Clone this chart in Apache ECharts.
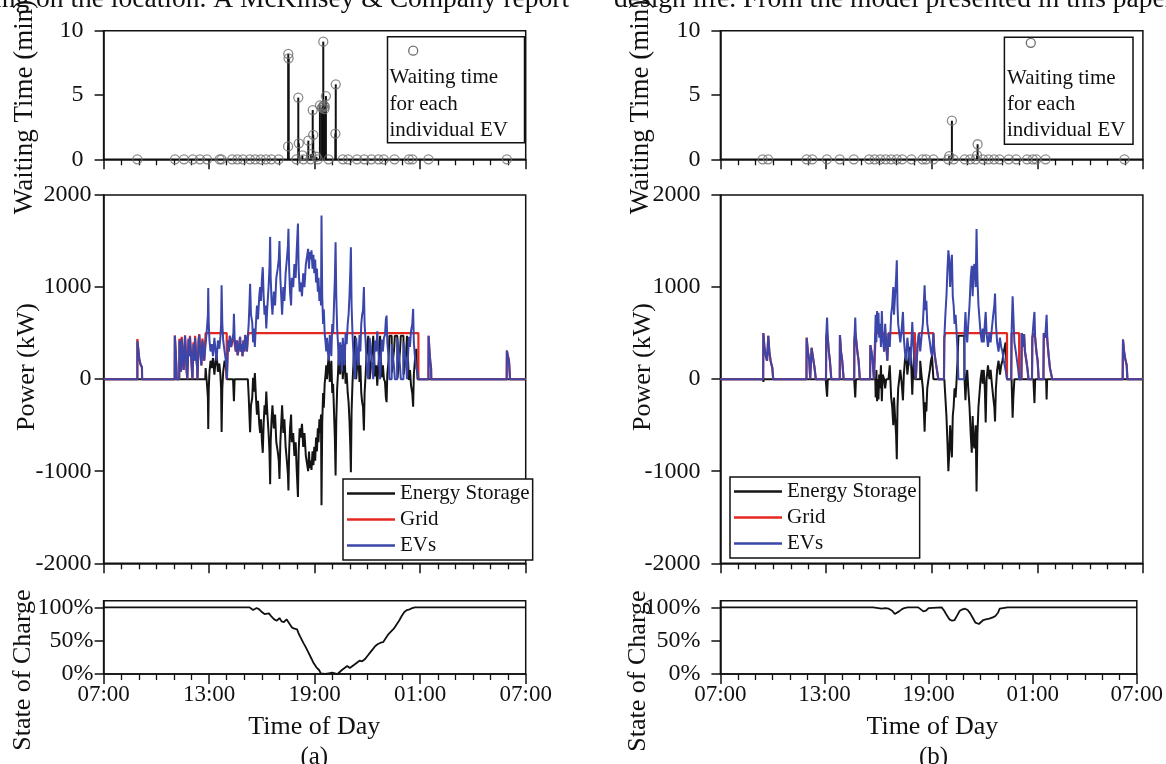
<!DOCTYPE html>
<html>
<head>
<meta charset="utf-8">
<script src="https://cdn.jsdelivr.net/npm/echarts@6/dist/echarts.min.js"></script>
<style>
html,body{margin:0;padding:0;background:#fff;}
#chart{width:1166px;height:764px;}
</style>
</head>
<body>
<div id="chart"></div>
<script>
// ---------- tick labels ----------
const timeTicks = [7, 13, 19, 25, 31];
const timeTickLabels = ['07:00', '13:00', '19:00', '01:00', '07:00'];
const socTicks = [0, 50, 100];
const socTickLabels = ['0%', '50%', '100%'];
const seriesNames = ['Energy Storage', 'Grid', 'EVs'];

// ---------- panel (a) ----------
const waitA = [
  [8.92,0],[11.06,0],[11.57,0],[12.07,0],[12.48,0],[12.88,0],[13.6,0],[13.7,0],[14.31,0],[14.61,0],
  [14.92,0],[15.32,0],[15.62,0],[15.93,0],[16.23,0],[16.54,0],[16.95,0],[17.96,0],[18.36,0],[18.77,0],
  [19.18,0],[19.79,0],[20.6,0],[20.9,0],[21.41,0],[21.82,0],[22.23,0],[22.63,0],[22.93,0],[23.54,0],
  [24.36,0],[24.56,0],[25.47,0],[29.93,0],
  [17.5,8.2],[17.52,7.85],[17.49,1.0],[18.07,4.8],[18.1,1.24],[18.3,0.3],[18.64,1.45],[18.8,0.4],
  [18.89,3.83],[18.92,1.9],[19.1,0.2],[19.3,4.2],[19.42,4.0],[19.45,4.1],[19.49,9.15],[19.52,4.2],
  [19.55,3.9],[19.58,4.1],[19.64,4.92],[20.2,5.83],[20.18,2.0]
];
const evA = [
  [7,0],[8.92,0],[8.92,415],[8.97,330],[9.03,220],[9.1,160],[9.18,130],[9.19,0],
  [11.04,0],[11.05,470],[11.1,300],[11.14,120],[11.16,0],
  [11.3,0],[11.31,420],[11.36,250],[11.4,80],[11.44,440],[11.5,260],[11.55,100],[11.63,470],[11.68,280],[11.72,90],[11.76,0],
  [11.82,0],[11.83,430],[11.88,250],[11.91,460],[11.97,270],[12.02,100],[12.05,0],
  [12.1,0],[12.11,380],[12.16,200],[12.2,450],[12.26,260],[12.32,120],[12.34,0],
  [12.38,0],[12.4,410],[12.44,480],[12.5,300],[12.56,150],[12.62,420],[12.67,300],[12.72,200],
  [12.8,380],[12.88,560],[12.93,700],[12.95,990],[12.98,600],[13.02,420],[13.08,300],[13.15,380],[13.22,250],
  [13.3,450],[13.36,320],[13.42,200],[13.5,420],[13.58,330],[13.64,450],[13.68,600],[13.71,1020],[13.75,600],
  [13.8,420],[13.88,300],[13.95,200],[14.0,120],[14.02,0],
  [14.05,0],[14.07,420],[14.12,300],[14.18,470],[14.25,350],[14.3,400],[14.38,500],[14.41,710],[14.45,450],
  [14.52,300],[14.58,420],[14.62,260],[14.7,350],[14.76,460],[14.8,300],[14.85,380],[14.9,250],[14.95,420],
  [15.0,300],[15.05,480],[15.1,420],[15.15,300],[15.2,460],[15.25,600],[15.3,850],[15.33,1035],[15.38,700],
  [15.45,620],[15.5,400],[15.55,550],[15.6,350],[15.66,600],[15.72,800],[15.78,650],[15.85,900],[15.9,1000],
  [15.95,850],[16.0,1080],[16.05,1216],[16.1,900],[16.15,700],[16.2,800],[16.25,550],[16.3,750],[16.38,1000],
  [16.43,1200],[16.47,1545],[16.5,1100],[16.55,850],[16.6,700],[16.68,950],[16.75,800],[16.82,1100],[16.9,1200],
  [16.96,1300],[17.0,1500],[17.05,1100],[17.1,900],[17.15,700],[17.22,1000],[17.28,850],[17.35,1150],[17.42,1300],
  [17.48,1450],[17.51,1632],[17.55,1200],[17.6,950],[17.66,800],[17.7,1100],[17.78,1000],[17.85,1250],[17.92,1100],
  [17.98,1400],[18.05,1690],[18.09,1200],[18.15,950],[18.2,1050],[18.28,900],[18.35,1150],[18.42,1000],[18.5,1250],
  [18.58,1350],[18.63,1415],[18.68,1200],[18.72,1380],[18.78,1300],[18.82,1400],[18.88,1200],[18.93,1350],
  [18.98,1150],[19.03,1300],[19.08,1050],[19.13,1200],[19.18,950],[19.22,1100],[19.27,850],[19.32,1000],
  [19.36,800],[19.39,1776],[19.43,900],[19.48,600],[19.52,760],[19.57,500],[19.62,400],[19.66,300],[19.7,450],
  [19.75,300],[19.8,200],[19.86,480],[19.9,350],[19.95,250],[20.0,600],[20.05,500],[20.1,800],[20.15,1100],
  [20.19,1487],[20.23,900],[20.28,550],[20.33,380],[20.38,150],[20.45,400],[20.5,250],[20.55,80],[20.6,450],
  [20.65,300],[20.7,150],[20.76,500],[20.82,380],[20.88,600],[20.93,700],[20.98,900],[21.03,1200],[21.06,1433],
  [21.1,800],[21.15,500],[21.2,300],[21.25,100],[21.3,0],[21.35,0],[21.36,450],[21.42,300],[21.48,150],
  [21.55,480],[21.6,300],[21.65,600],[21.7,700],[21.75,750],[21.8,1000],[21.84,600],[21.9,400],[21.95,200],
  [22.0,60],[22.05,0],[22.12,0],[22.13,450],[22.2,300],[22.27,150],[22.33,0],[22.42,0],[22.43,420],[22.5,300],
  [22.56,520],[22.62,320],[22.68,140],[22.72,0],[22.8,0],[22.81,430],[22.88,300],[22.94,450],[23.0,480],
  [23.05,650],[23.09,690],[23.13,400],[23.2,250],[23.25,0],[23.38,0],[23.39,380],[23.45,250],[23.52,120],
  [23.56,0],[23.7,0],[23.71,440],[23.78,300],[23.85,150],[23.9,0],[24.05,0],[24.06,400],[24.12,300],[24.2,180],
  [24.25,0],[24.35,0],[24.36,460],[24.42,350],[24.48,520],[24.55,600],[24.6,763],[24.64,400],[24.7,250],
  [24.78,120],[24.85,80],[24.9,0],
  [25.47,0],[25.48,470],[25.53,300],[25.58,180],[25.62,120],[25.63,0],
  [29.92,0],[29.93,310],[29.98,260],[30.05,200],[30.1,180],[30.11,0],[31,0]
];
const gridA = [
  [7,0],[8.92,0],[8.92,435],[8.97,330],[9.03,220],[9.1,160],[9.18,130],[9.19,0],
  [11.04,0],[11.05,475],[11.1,300],[11.14,120],[11.16,0],[11.3,0],[11.31,440],[11.36,250],[11.4,80],
  [11.44,460],[11.5,260],[11.55,100],[11.63,475],[11.68,280],[11.72,90],[11.76,0],[11.82,0],[11.83,440],
  [11.88,250],[11.91,470],[11.97,270],[12.02,100],[12.05,0],[12.1,0],[12.11,400],[12.16,200],[12.2,470],
  [12.26,260],[12.32,120],[12.34,0],[12.38,0],[12.4,430],[12.44,490],[12.5,300],[12.56,150],[12.62,440],
  [12.67,300],[12.72,200],[12.8,500],[14.0,500],[14.0,0],
  [14.05,0],[14.07,420],[14.12,300],[14.18,470],[14.25,350],[14.3,400],[14.38,470],[14.45,450],[14.52,300],
  [14.58,420],[14.62,260],[14.7,350],[14.76,460],[14.8,300],[14.85,380],[14.9,250],[14.95,420],[15.0,300],
  [15.05,480],[15.1,420],[15.15,300],[15.2,460],[15.25,500],[24.9,500],[24.9,0],
  [25.47,0],[25.48,470],[25.53,300],[25.58,180],[25.62,120],[25.63,0],
  [29.92,0],[29.93,310],[29.98,260],[30.05,200],[30.1,180],[30.11,0],[31,0]
];
const storageA = [
  [7,0],[12.78,0],[12.8,120],[12.88,-60],[12.93,-200],[12.95,-540],[12.98,-100],[13.02,80],[13.08,200],
  [13.15,120],[13.22,230],[13.3,50],[13.36,180],[13.42,280],[13.5,80],[13.58,170],[13.64,50],[13.68,-100],
  [13.71,-575],[13.75,-100],[13.8,80],[13.88,200],[13.95,150],[14.0,0],
  [14.36,0],[14.41,-240],[14.45,0],[15.2,0],
  [15.25,-185],[15.3,-435],[15.33,-575],[15.38,-285],[15.45,-205],[15.5,15],[15.55,-135],[15.6,65],
  [15.66,-185],[15.72,-385],[15.78,-235],[15.85,-485],[15.9,-585],[15.95,-435],[16.0,-665],[16.05,-800],
  [16.1,-485],[16.15,-285],[16.2,-385],[16.25,-135],[16.3,-335],[16.38,-585],[16.43,-785],[16.47,-1140],
  [16.5,-685],[16.55,-435],[16.6,-285],[16.68,-535],[16.75,-385],[16.82,-685],[16.9,-785],[16.96,-885],
  [17.0,-1085],[17.05,-685],[17.1,-485],[17.15,-285],[17.22,-585],[17.28,-435],[17.35,-735],[17.42,-885],
  [17.48,-1035],[17.51,-1210],[17.55,-785],[17.6,-535],[17.66,-385],[17.7,-685],[17.78,-585],[17.85,-835],
  [17.92,-685],[17.98,-985],[18.05,-1280],[18.09,-785],[18.15,-535],[18.2,-635],[18.28,-485],[18.35,-735],
  [18.42,-585],[18.5,-835],[18.58,-935],[18.63,-1000],[18.68,-785],[18.72,-965],[18.78,-885],[18.82,-985],
  [18.88,-785],[18.93,-935],[18.98,-735],[19.03,-885],[19.08,-635],[19.13,-785],[19.18,-535],[19.22,-685],
  [19.27,-435],[19.32,-585],[19.36,-385],[19.39,-1370],[19.43,-485],
  [19.48,-150],[19.52,-310],[19.57,-50],[19.62,50],[19.66,150],[19.7,0],[19.75,150],[19.8,250],[19.86,-30],
  [19.9,100],[19.95,200],[20.0,-150],[20.05,-50],[20.1,-350],[20.15,-650],[20.19,-1046],[20.23,-450],
  [20.28,-100],[20.33,70],[20.38,300],[20.45,50],[20.5,200],[20.55,370],[20.6,0],[20.65,150],[20.7,300],
  [20.76,-50],[20.82,70],[20.88,-150],[20.93,-250],[20.98,-450],[21.03,-750],[21.06,-1010],[21.1,-350],
  [21.15,-50],[21.2,150],[21.25,350],[21.3,470],[21.35,470],[21.36,0],[21.42,150],[21.48,300],[21.55,-30],
  [21.6,150],[21.65,-150],[21.7,-250],[21.75,-300],[21.8,-558],[21.84,-150],[21.9,50],[21.95,250],[22.0,390],
  [22.05,470],[22.12,470],[22.13,0],[22.2,150],[22.27,300],[22.33,470],[22.42,470],[22.43,30],[22.5,150],
  [22.56,-70],[22.62,130],[22.68,310],[22.72,470],[22.8,470],[22.81,20],[22.88,150],[22.94,0],[23.0,-30],
  [23.05,-200],[23.09,-250],[23.13,50],[23.2,200],[23.25,470],[23.38,470],[23.39,70],[23.45,200],[23.52,330],
  [23.56,470],[23.7,470],[23.71,10],[23.78,150],[23.85,300],[23.9,470],[24.05,470],[24.06,50],[24.12,150],
  [24.2,270],[24.25,470],[24.35,470],[24.36,-10],[24.42,100],[24.48,-70],[24.55,-150],[24.6,-300],[24.64,50],
  [24.7,200],[24.78,330],[24.85,0],[24.9,0],[31,0]
];
const socA = [
  [7,100],[12.9,100],[13.0,98],[13.1,100],[13.7,100],[13.75,98],[13.8,100],[15.3,100],[15.5,96],[15.7,99],
  [15.85,97],[16.0,93],[16.15,90],[16.25,88],[16.4,91],[16.55,86],[16.7,82],[16.85,80],[17.0,84],[17.12,79],
  [17.25,78],[17.4,82],[17.55,76],[17.7,70],[17.85,68],[18.0,67],[18.1,60],[18.2,55],[18.35,47],[18.5,40],
  [18.65,32],[18.8,24],[18.95,16],[19.1,10],[19.25,6],[19.35,1],[19.45,0],[19.6,0],[19.7,3],[19.8,1],
  [19.9,3],[20.0,2],[20.1,0],[20.3,0],[20.4,1],[20.55,6],[20.7,9],[20.85,12],[21.0,9],[21.1,8],[21.25,14],
  [21.4,17],[21.55,20],[21.7,19],[21.85,22],[22.0,27],[22.15,32],[22.3,37],[22.45,42],[22.6,45],[22.75,47],
  [22.9,48],[23.05,54],[23.2,60],[23.35,64],[23.5,68],[23.65,74],[23.8,80],[23.95,87],[24.1,93],[24.25,96],
  [24.4,97],[24.55,99],[24.7,100],[31,100]
];

// ---------- panel (b) ----------
const waitB = [
  [9.4,0],[9.71,0],[11.9,0],[12.22,0],[13.05,0],[13.78,0],[14.58,0],[15.45,0],[15.76,0],[16.08,0],
  [16.39,0],[16.7,0],[17.02,0],[17.33,0],[17.85,0],[18.48,0],[18.69,0],[19.1,0],[19.94,0],[20.25,0],
  [20.88,0],[21.19,0],[21.5,0],[21.92,0],[22.23,0],[22.55,0],[22.86,0],[23.38,0],[23.8,0],[24.42,0],
  [24.74,0],[24.95,0],[25.47,0],[29.95,0],
  [20.0,0.25],[20.15,3.0],[21.58,0.3],[21.61,1.17]
];
const evB = [
  [7,0],[9.43,0],[9.44,500],[9.5,350],[9.58,250],[9.65,200],[9.72,470],[9.78,300],[9.85,200],[9.95,120],[10.0,0],
  [11.89,0],[11.9,450],[11.97,300],[12.05,200],[12.1,0],[12.17,0],[12.18,340],[12.25,250],[12.35,120],[12.42,0],
  [13.0,0],[13.01,460],[13.06,670],[13.1,450],[13.16,300],[13.22,200],[13.3,0],
  [13.78,0],[13.79,480],[13.85,300],[13.92,200],[14.0,0],
  [14.6,0],[14.61,420],[14.66,670],[14.7,450],[14.78,300],[14.85,200],[14.92,0],
  [15.5,0],[15.52,370],[15.58,300],[15.65,200],[15.72,0],
  [15.8,0],[15.82,700],[15.86,400],[15.9,740],[15.94,500],[15.98,720],[16.02,450],[16.07,600],[16.12,350],
  [16.17,740],[16.22,450],[16.3,300],[16.36,600],[16.42,400],[16.48,200],[16.55,500],[16.62,350],[16.7,700],
  [16.76,800],[16.82,1000],[16.86,700],[16.92,900],[16.98,1100],[17.02,1290],[17.06,800],[17.1,600],[17.16,500],
  [17.22,400],[17.3,550],[17.37,730],[17.42,450],[17.48,300],[17.55,200],[17.62,450],[17.7,300],[17.78,150],
  [17.85,400],[17.9,620],[17.95,400],[18.0,250],[18.05,100],[18.1,0],[18.15,0],[18.2,380],[18.28,500],
  [18.35,300],[18.42,450],[18.5,600],[18.55,800],[18.6,1020],[18.65,750],[18.7,850],[18.75,600],[18.82,500],
  [18.9,400],[18.96,300],[19.02,250],[19.1,500],[19.15,300],[19.22,200],[19.3,100],[19.38,0],[19.7,0],
  [19.72,450],[19.78,700],[19.84,900],[19.9,1200],[19.95,1400],[20.0,1300],[20.05,1000],[20.1,1200],
  [20.15,1350],[20.2,900],[20.25,800],[20.3,600],[20.36,700],[20.42,500],[20.47,300],[20.52,0],[20.85,0],
  [20.87,500],[20.92,730],[20.97,500],[21.02,400],[21.08,600],[21.15,800],[21.22,1100],[21.28,1230],[21.33,900],
  [21.38,1200],[21.43,1250],[21.5,1000],[21.55,1630],[21.6,1100],[21.66,800],[21.72,650],[21.78,500],[21.85,400],
  [21.9,550],[21.96,400],[22.02,600],[22.07,730],[22.12,500],[22.2,350],[22.28,500],[22.35,400],[22.42,550],
  [22.5,700],[22.56,800],[22.6,930],[22.65,600],[22.72,400],[22.8,300],[22.88,450],[22.95,350],[23.02,300],
  [23.1,200],[23.2,100],[23.28,0],[23.52,0],[23.54,500],[23.6,900],[23.64,700],[23.7,400],[23.78,300],
  [23.85,200],[23.92,100],[23.97,0],[24.1,0],[24.12,500],[24.18,350],[24.25,490],[24.3,300],[24.38,200],
  [24.45,100],[24.5,0],[24.7,0],[24.72,450],[24.78,600],[24.84,730],[24.88,450],[24.95,300],[25.02,200],
  [25.08,0],[25.35,0],[25.37,500],[25.45,450],[25.53,700],[25.58,400],[25.65,250],[25.72,120],[25.8,100],
  [25.85,0],[29.85,0],[29.87,430],[29.93,300],[30.0,220],[30.08,150],[30.12,0],[31,0]
];
const gridB = [
  [7,0],[9.43,0],[9.44,500],[9.5,350],[9.58,250],[9.65,200],[9.72,470],[9.78,300],[9.85,200],[9.95,120],[10.0,0],
  [11.89,0],[11.9,450],[11.97,300],[12.05,200],[12.1,0],[12.17,0],[12.18,340],[12.25,250],[12.35,120],[12.42,0],
  [13.0,0],[13.01,460],[13.06,500],[13.1,450],[13.16,300],[13.22,200],[13.3,0],
  [13.78,0],[13.79,480],[13.85,300],[13.92,200],[14.0,0],
  [14.6,0],[14.61,420],[14.66,500],[14.7,450],[14.78,300],[14.85,200],[14.92,0],
  [15.5,0],[15.52,370],[15.58,300],[15.65,200],[15.72,0],
  [15.8,0],[15.82,500],[16.3,500],[16.3,300],[16.36,500],[16.42,400],[16.48,200],[16.55,500],[18.05,500],
  [18.05,100],[18.1,0],[18.15,0],[18.2,380],[18.28,500],[19.1,500],[19.15,300],[19.22,200],[19.3,100],
  [19.38,0],[19.7,0],[19.72,450],[19.78,500],[23.28,500],[23.28,0],[23.52,0],[23.54,500],[23.97,500],
  [23.97,0],[24.1,0],[24.12,500],[24.18,350],[24.25,490],[24.3,300],[24.38,200],[24.45,100],[24.5,0],
  [24.7,0],[24.72,450],[24.78,500],[24.88,450],[24.95,300],[25.02,200],[25.08,0],[25.35,0],[25.37,500],
  [25.45,450],[25.53,500],[25.58,400],[25.65,250],[25.72,120],[25.8,100],[25.85,0],
  [29.85,0],[29.87,430],[29.93,300],[30.0,220],[30.08,150],[30.12,0],[31,0]
];
const storageB = [
  [7,0],[9.43,0],[9.44,-30],[9.46,0],[12.98,0],[13.06,-190],[13.1,0],[14.6,0],[14.66,-200],[14.7,0],
  [15.8,0],[15.82,-200],[15.86,100],[15.9,-240],[15.94,0],[15.98,-220],[16.02,50],[16.07,-100],[16.12,150],
  [16.17,-240],[16.22,50],[16.3,0],[16.36,-100],[16.42,0],[16.48,0],[16.55,0],[16.62,150],[16.7,-200],
  [16.76,-300],[16.82,-500],[16.86,-200],[16.92,-400],[16.98,-600],[17.02,-870],[17.06,-300],[17.1,-100],
  [17.16,0],[17.22,100],[17.3,-50],[17.37,-230],[17.42,50],[17.48,200],[17.55,300],[17.62,50],[17.7,200],
  [17.78,350],[17.85,100],[17.9,-170],[17.95,100],[18.0,250],[18.05,0],[18.35,0],[18.35,200],[18.42,50],
  [18.5,-100],[18.55,-300],[18.6,-570],[18.65,-250],[18.7,-350],[18.75,-100],[18.82,0],[18.9,100],[18.96,200],
  [19.02,250],[19.1,0],[19.72,0],[19.78,-200],[19.84,-400],[19.9,-700],[19.95,-1000],[20.0,-800],[20.05,-500],
  [20.1,-700],[20.15,-850],[20.2,-400],[20.25,-300],[20.3,-100],[20.36,-200],[20.42,0],[20.47,200],[20.52,470],
  [20.85,470],[20.87,0],[20.92,-230],[20.97,0],[21.02,100],[21.08,-100],[21.15,-300],[21.22,-600],[21.28,-800],
  [21.33,-400],[21.38,-700],[21.43,-750],[21.5,-500],[21.55,-1220],[21.6,-600],[21.66,-300],[21.72,-150],
  [21.78,0],[21.85,100],[21.9,-50],[21.96,100],[22.02,-100],[22.07,-470],[22.12,0],[22.2,150],[22.28,0],
  [22.35,100],[22.42,-50],[22.5,-200],[22.56,-300],[22.6,-460],[22.65,-100],[22.72,100],[22.8,200],[22.88,50],
  [22.95,150],[23.02,200],[23.1,300],[23.2,400],[23.28,0],[23.54,0],[23.6,-420],[23.64,-200],[23.7,0],
  [24.78,0],[24.84,-260],[24.88,0],[25.5,0],[25.53,-220],[25.56,0],[31,0]
];
const socB = [
  [7,100],[15.8,100],[15.9,98],[16.1,99],[16.3,98],[16.5,99],[16.7,98],[16.9,95],[17.05,90],[17.15,91],
  [17.3,94],[17.45,97],[17.6,99],[17.8,100],[18.4,100],[18.55,97],[18.7,94],[18.85,95],[19.0,99],[19.1,100],
  [19.75,100],[19.9,95],[20.05,88],[20.2,82],[20.35,80],[20.5,81],[20.65,88],[20.8,95],[20.95,97],[21.1,98],
  [21.25,96],[21.4,91],[21.55,84],[21.7,77],[21.8,74],[21.9,75],[22.0,78],[22.15,81],[22.3,82],[22.5,83],
  [22.7,85],[22.85,87],[23.0,92],[23.1,98],[23.2,100],[23.55,100],[23.65,98],[23.8,100],[24.2,100],
  [24.3,99],[24.4,100],[31,100]
];

// ---------- styling / layout ----------
const FONT = '"Liberation Serif", "Times New Roman", serif';
const INK = '#111';
const C_STORAGE = '#141414', C_GRID = '#e4281f', C_EV = '#3a46aa';
const panels = [
  {left: 103.6, width: 422.1, wait: waitA, ev: evA, grid: gridA, storage: storageA, soc: socA,
   yMargin: [20, 12, 10]},
  {left: 720.4, width: 422.5, wait: waitB, ev: evB, grid: gridB, storage: storageB, soc: socB,
   yMargin: [20, 20, 20]}
];
const rows = [
  {top: 30.7, height: 128.6},
  {top: 195, height: 368.3},
  {top: 600.7, height: 73.3}
];

const grids = [], xAxes = [], yAxes = [], series = [];
panels.forEach((p, pi) => {
  rows.forEach((r, ri) => {
    const idx = grids.length;
    grids.push({left: p.left, width: p.width, top: r.top, height: r.height,
      show: true, borderColor: INK, borderWidth: 1.5, backgroundColor: 'transparent'});
    xAxes.push({
      type: 'value', gridIndex: idx, min: 7, max: 31, interval: 6,
      axisLine: {onZero: false, lineStyle: {color: INK, width: 1.5}},
      axisTick: {show: true, inside: false, length: 10, lineStyle: {color: INK, width: 1.5}},
      minorTick: {show: true, splitNumber: 6, length: 6, lineStyle: {color: INK, width: 1.3}},
      splitLine: {show: false}, minorSplitLine: {show: false},
      axisLabel: {show: ri === 2, margin: 9, color: INK, fontFamily: FONT, fontSize: 23,
        formatter: v => { const k = timeTicks.indexOf(v); return k >= 0 ? timeTickLabels[k] : ''; }}
    });
    const y = {type: 'value', gridIndex: idx,
      axisLine: {show: true, lineStyle: {color: INK, width: 1.5}},
      axisTick: {show: true, inside: false, length: 9, lineStyle: {color: INK, width: 1.5}},
      splitLine: {show: false},
      axisLabel: {margin: p.yMargin[ri], color: INK, fontFamily: FONT, fontSize: 24,
        formatter: v => String(v)}};
    if (ri === 0) { y.min = 0; y.max = 10; y.interval = 5; }
    if (ri === 1) { y.min = -2000; y.max = 2000; y.interval = 1000; }
    if (ri === 2) {
      y.min = 0; y.max = 110;
      y.axisTick.customValues = socTicks;
      y.axisLabel.customValues = socTicks;
      y.axisLabel.formatter = v => socTickLabels[socTicks.indexOf(v)] || '';
    }
    yAxes.push(y);

    if (ri === 0) {
      series.push({type: 'bar', xAxisIndex: idx, yAxisIndex: idx, barWidth: 2,
        itemStyle: {color: INK}, data: p.wait, silent: true});
      series.push({type: 'scatter', xAxisIndex: idx, yAxisIndex: idx, symbol: 'circle', symbolSize: 9,
        clip: false, itemStyle: {color: 'rgba(255,255,255,0)', borderColor: '#6e6e6e', borderWidth: 1.3},
        data: p.wait, z: 3});
    } else if (ri === 1) {
      const base = {type: 'line', xAxisIndex: idx, yAxisIndex: idx, showSymbol: false, symbol: 'none'};
      series.push(Object.assign({}, base, {name: seriesNames[0], data: p.storage,
        lineStyle: {color: C_STORAGE, width: 2}, itemStyle: {color: C_STORAGE}, z: 2}));
      series.push(Object.assign({}, base, {name: seriesNames[1], data: p.grid,
        lineStyle: {color: C_GRID, width: 2.2}, itemStyle: {color: C_GRID}, z: 3}));
      series.push(Object.assign({}, base, {name: seriesNames[2], data: p.ev,
        lineStyle: {color: C_EV, width: 2}, itemStyle: {color: C_EV}, z: 4}));
    } else {
      series.push({type: 'line', xAxisIndex: idx, yAxisIndex: idx, showSymbol: false, symbol: 'none',
        data: p.soc, lineStyle: {color: INK, width: 1.8}});
    }
  });
});

const legendCommon = {orient: 'vertical', icon: 'rect', itemWidth: 48, itemHeight: 2.5, itemGap: 5,
  padding: [4, 3, 4, 4], borderColor: INK, borderWidth: 1.5, backgroundColor: '#fff',
  textStyle: {fontFamily: FONT, fontSize: 21, color: INK, lineHeight: 21}, data: seriesNames,
  selectedMode: false};
const legends = [
  Object.assign({}, legendCommon, {left: 343, top: 479}),
  Object.assign({}, legendCommon, {left: 730, top: 477})
];

function vText(x, y, text, size) {
  return {type: 'text', x: x, y: y, rotation: Math.PI / 2, silent: true,
    style: {text: text, font: size + 'px ' + FONT, fill: INK, align: 'center', verticalAlign: 'middle'}};
}
function hText(x, y, text, size, align) {
  return {type: 'text', x: x, y: y, silent: true,
    style: {text: text, font: size + 'px ' + FONT, fill: INK, align: align || 'center', verticalAlign: 'middle'}};
}
function waitLegend(x, y, w, h, cx, cy, tx, ty) {
  return [
    {type: 'rect', shape: {x: x, y: y, width: w, height: h}, silent: true,
      style: {fill: '#fff', stroke: INK, lineWidth: 1.5}, z: 10},
    {type: 'circle', shape: {cx: cx, cy: cy, r: 4.5}, silent: true,
      style: {fill: 'none', stroke: '#6e6e6e', lineWidth: 1.3}, z: 11},
    {type: 'text', x: tx, y: ty, silent: true, z: 11,
      style: {text: 'Waiting time\nfor each\nindividual EV', font: '21px ' + FONT, fill: INK,
        lineHeight: 26.3, align: 'left', verticalAlign: 'middle'}}
  ];
}

const graphics = [
  hText(-6, 0, 'ing on the location. A McKinsey & Company report', 27.5, 'left'),
  hText(614, 0, 'design life. From the model presented in this paper t', 27.5, 'left'),
  vText(25, 107, 'Waiting Time (min)', 27),
  vText(27, 367, 'Power (kW)', 26),
  vText(23, 670, 'State of Charge', 26),
  vText(641, 107, 'Waiting Time (min)', 27),
  vText(643, 367, 'Power (kW)', 26),
  vText(638.5, 671, 'State of Charge', 26),
  hText(314.3, 727, 'Time of Day', 26),
  hText(314.3, 757, '(a)', 25),
  hText(932.4, 727, 'Time of Day', 26),
  hText(933.5, 757, '(b)', 25)
].concat(waitLegend(387.5, 36.7, 137, 106, 413.2, 50.7, 389.5, 104))
 .concat(waitLegend(1004.4, 37.3, 128.6, 107, 1030.8, 42.8, 1007, 104.3));

const chart = echarts.init(document.getElementById('chart'), null, {renderer: 'canvas'});
chart.setOption({
  animation: false,
  backgroundColor: '#fff',
  grid: grids, xAxis: xAxes, yAxis: yAxes,
  legend: legends,
  series: series,
  graphic: graphics
});
</script>
</body>
</html>
